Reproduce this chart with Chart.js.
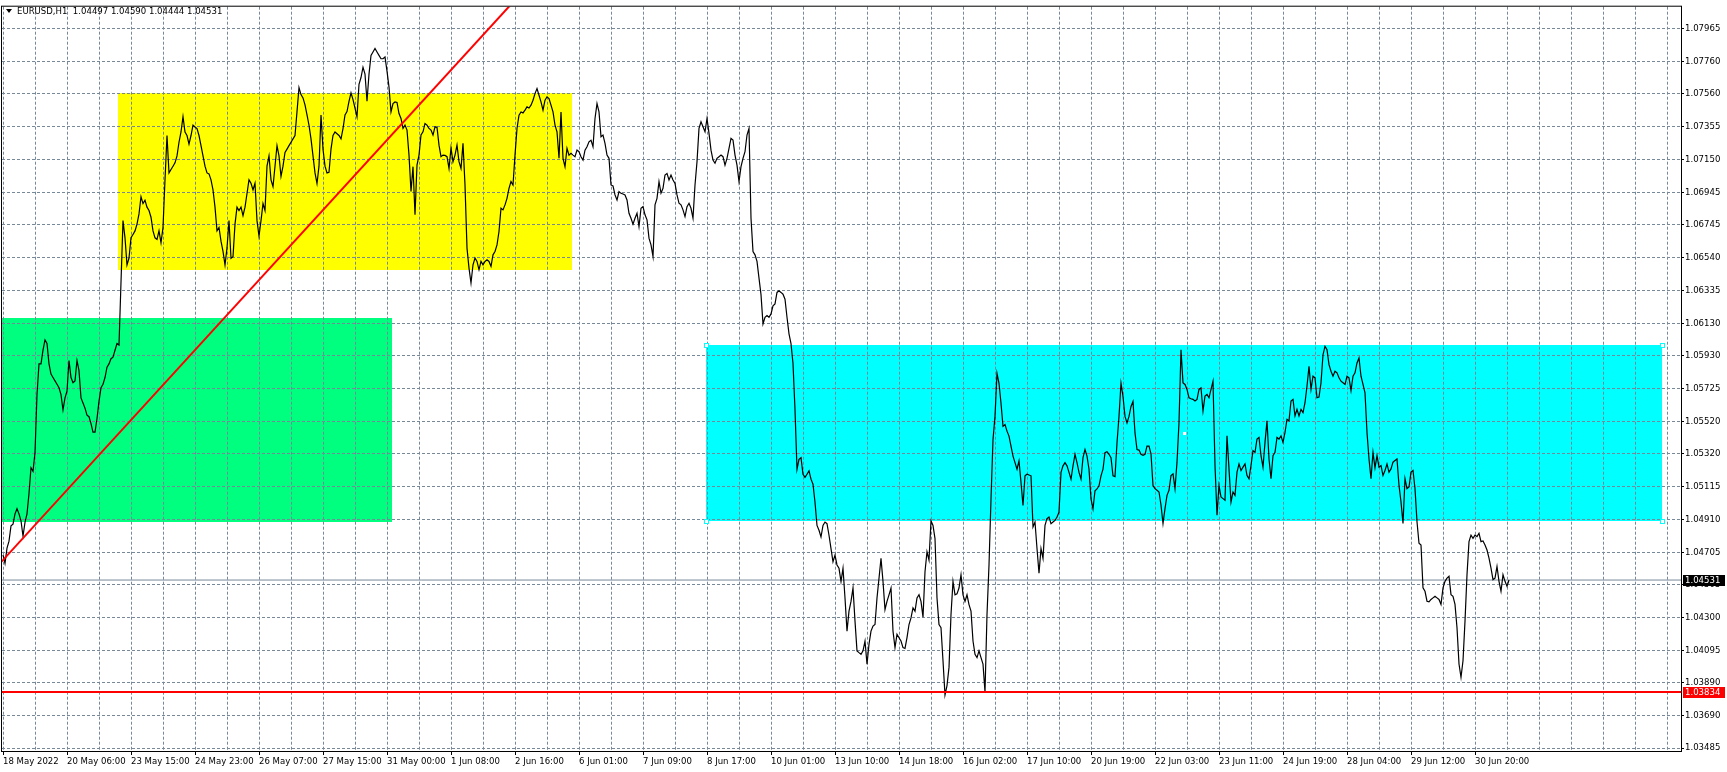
<!DOCTYPE html>
<html><head><meta charset="utf-8">
<script src="https://cdn.jsdelivr.net/npm/chart.js@4.4.1/dist/chart.umd.min.js"></script>
<style>html,body{margin:0;padding:0;background:#fff;overflow:hidden}canvas{display:block}</style>
</head><body>
<canvas id="c" width="1727" height="772"></canvas>
<script>
// ---------- data ----------
const symbolTitle = 'EURUSD,H1  1.04497 1.04590 1.04444 1.04531';
const timeLabels = ['18 May 2022','20 May 06:00','23 May 15:00','24 May 23:00','26 May 07:00','27 May 15:00','31 May 00:00','1 Jun 08:00','2 Jun 16:00','6 Jun 01:00','7 Jun 09:00','8 Jun 17:00','10 Jun 01:00','13 Jun 10:00','14 Jun 18:00','16 Jun 02:00','17 Jun 10:00','20 Jun 19:00','22 Jun 03:00','23 Jun 11:00','24 Jun 19:00','28 Jun 04:00','29 Jun 12:00','30 Jun 20:00'];
const barsPerLabel = 32;
const priceTicks = [1.07965,1.07760,1.07560,1.07355,1.07150,1.06945,1.06745,1.06540,1.06335,1.06130,1.05930,1.05725,1.05520,1.05320,1.05115,1.04910,1.04705,1.04505,1.04300,1.04095,1.03890,1.03690,1.03485];
// hourly closes, one per bar (bar index = array index)
const closePrice = [
1.04688,1.04635,1.04730,1.04773,1.04868,1.04879,1.04943,1.04975,1.04943,1.04900,
1.04805,1.04890,1.04943,1.05070,1.05230,1.05208,1.05325,1.05686,1.05877,1.05877,
1.05962,1.06026,1.06004,1.05877,1.05813,1.05792,1.05771,1.05750,1.05728,1.05686,
1.05590,1.05665,1.05707,1.05898,1.05792,1.05760,1.05771,1.05898,1.05835,1.05665,
1.05633,1.05601,1.05558,1.05548,1.05505,1.05452,1.05452,1.05537,1.05643,1.05728,
1.05750,1.05792,1.05856,1.05877,1.05909,1.05919,1.05962,1.06004,1.05994,1.06386,
1.06769,1.06662,1.06493,1.06535,1.06662,1.06683,1.06705,1.06747,1.06811,1.06918,
1.06875,1.06896,1.06853,1.06832,1.06790,1.06705,1.06662,1.06652,1.06705,1.06631,
1.06726,1.07023,1.07299,1.07066,1.07087,1.07108,1.07129,1.07172,1.07257,1.07321,
1.07416,1.07321,1.07299,1.07246,1.07299,1.07363,1.07352,1.07342,1.07299,1.07236,
1.07172,1.07108,1.07066,1.07060,1.07023,1.06960,1.06853,1.06705,1.06726,1.06641,
1.06578,1.06493,1.06599,1.06769,1.06535,1.06545,1.06747,1.06853,1.06832,1.06853,
1.06800,1.06853,1.06938,1.07023,1.07002,1.06960,1.07002,1.06769,1.06673,1.06769,
1.06875,1.06832,1.07108,1.07172,1.07023,1.06981,1.07108,1.07236,1.07172,1.07045,
1.07108,1.07193,1.07214,1.07236,1.07257,1.07278,1.07299,1.07448,1.07597,1.07554,
1.07533,1.07490,1.07427,1.07363,1.07278,1.07172,1.07066,1.07000,1.07108,1.07427,
1.07214,1.07108,1.07066,1.07070,1.07214,1.07299,1.07321,1.07310,1.07299,1.07278,
1.07342,1.07427,1.07448,1.07512,1.07565,1.07522,1.07469,1.07415,1.07618,1.07660,
1.07724,1.07681,1.07512,1.07681,1.07798,1.07819,1.07841,1.07819,1.07798,1.07777,
1.07777,1.07788,1.07700,1.07600,1.07446,1.07498,1.07508,1.07505,1.07436,1.07405,
1.07343,1.07364,1.07333,1.07177,1.06950,1.07105,1.06805,1.07115,1.07177,1.07302,
1.07322,1.07374,1.07364,1.07343,1.07333,1.07302,1.07353,1.07350,1.07239,1.07167,
1.07177,1.07175,1.07167,1.07094,1.07220,1.07136,1.07177,1.07239,1.07136,1.07094,
1.07250,1.06991,1.06598,1.06473,1.06380,1.06494,1.06536,1.06515,1.06463,1.06515,
1.06494,1.06515,1.06525,1.06515,1.06484,1.06556,1.06577,1.06618,1.06701,1.06846,
1.06836,1.06867,1.06908,1.06970,1.07012,1.06991,1.07177,1.07343,1.07426,1.07446,
1.07440,1.07457,1.07477,1.07470,1.07488,1.07519,1.07560,1.07591,1.07550,1.07508,
1.07457,1.07519,1.07540,1.07529,1.07488,1.07446,1.07364,1.07322,1.07157,1.07446,
1.07157,1.07105,1.07219,1.07177,1.07188,1.07177,1.07167,1.07208,1.07198,1.07167,
1.07146,1.07208,1.07229,1.07260,1.07270,1.07229,1.07405,1.07498,1.07446,1.07291,
1.07302,1.07250,1.07177,1.07157,1.06991,1.06985,1.06929,1.06898,1.06950,1.06939,
1.06935,1.06929,1.06898,1.06815,1.06784,1.06747,1.06784,1.06815,1.06732,1.06846,
1.06856,1.06805,1.06774,1.06660,1.06618,1.06546,1.06867,1.06908,1.07012,1.06940,
1.06970,1.07053,1.07063,1.07022,1.07053,1.07022,1.07001,1.06929,1.06877,1.06867,
1.06836,1.06794,1.06856,1.06877,1.06846,1.06784,1.06991,1.07136,1.07343,1.07384,
1.07353,1.07322,1.07405,1.07312,1.07208,1.07146,1.07126,1.07157,1.07167,1.07177,
1.07167,1.07115,1.07157,1.07219,1.07281,1.07270,1.07177,1.07115,1.07012,1.07105,
1.07157,1.07198,1.07302,1.07343,1.06784,1.06577,1.06556,1.06515,1.06411,1.06308,
1.06126,1.06167,1.06178,1.06167,1.06188,1.06239,1.06250,1.06322,1.06332,1.06322,
1.06311,1.06280,1.06167,1.06064,1.06003,1.05879,1.05591,1.05221,1.05283,1.05293,
1.05190,1.05170,1.05190,1.05211,1.05159,1.05128,1.05015,1.04871,1.04841,1.04799,
1.04871,1.04892,1.04882,1.04810,1.04727,1.04645,1.04686,1.04625,1.04604,1.04522,
1.04604,1.04419,1.04213,1.04337,1.04398,1.04481,1.04275,1.04090,1.04079,1.04069,
1.04090,1.04151,1.04007,1.04131,1.04213,1.04244,1.04254,1.04419,1.04542,1.04666,
1.04522,1.04347,1.04398,1.04439,1.04481,1.04213,1.04110,1.04193,1.04172,1.04151,
1.04110,1.04105,1.04172,1.04254,1.04295,1.04357,1.04337,1.04419,1.04439,1.04398,
1.04300,1.04583,1.04707,1.04655,1.04900,1.04871,1.04789,1.04419,1.04254,1.04234,
1.04028,1.03815,1.03874,1.03987,1.04316,1.04522,1.04439,1.04445,1.04481,1.04563,
1.04439,1.04398,1.04439,1.04378,1.04337,1.04151,1.04069,1.04048,1.04090,1.04048,
1.04007,1.03834,1.04316,1.04625,1.05036,1.05406,1.05550,1.05818,1.05756,1.05632,
1.05488,1.05499,1.05458,1.05427,1.05365,1.05303,1.05262,1.05221,1.05273,1.05139,
1.04995,1.05180,1.05190,1.05185,1.05180,1.04861,1.04892,1.04727,1.04573,1.04727,
1.04666,1.04871,1.04913,1.04923,1.04882,1.04892,1.04902,1.04923,1.04954,1.05201,
1.05242,1.05262,1.05242,1.05201,1.05159,1.05242,1.05314,1.05262,1.05201,1.05159,
1.05293,1.05344,1.05303,1.05221,1.05036,1.04974,1.05087,1.05098,1.05118,1.05180,
1.05221,1.05324,1.05330,1.05314,1.05293,1.05180,1.05175,1.05386,1.05550,1.05756,
1.05674,1.05550,1.05509,1.05550,1.05612,1.05643,1.05447,1.05344,1.05340,1.05314,
1.05308,1.05314,1.05365,1.05365,1.05316,1.05120,1.05100,1.05090,1.05079,1.04997,
1.04883,1.04976,1.05058,1.05090,1.05182,1.05192,1.05100,1.05265,1.05512,1.05965,
1.05759,1.05749,1.05718,1.05666,1.05660,1.05656,1.05646,1.05656,1.05718,1.05728,
1.05584,1.05677,1.05687,1.05666,1.05718,1.05769,1.05244,1.04935,1.05120,1.05048,
1.05038,1.05028,1.05429,1.05223,1.05017,1.05079,1.05058,1.05203,1.05254,1.05213,
1.05234,1.05254,1.05182,1.05162,1.05244,1.05337,1.05326,1.05409,1.05419,1.05306,
1.05234,1.05388,1.05522,1.05285,1.05162,1.05306,1.05326,1.05419,1.05409,1.05429,
1.05388,1.05450,1.05532,1.05522,1.05646,1.05656,1.05553,1.05594,1.05553,1.05594,
1.05574,1.05635,1.05739,1.05862,1.05718,1.05800,1.05790,1.05666,1.05670,1.05759,
1.05934,1.05986,1.05965,1.05872,1.05831,1.05800,1.05831,1.05821,1.05790,1.05769,
1.05759,1.05749,1.05800,1.05790,1.05710,1.05800,1.05821,1.05883,1.05914,1.05800,
1.05749,1.05697,1.05450,1.05285,1.05162,1.05326,1.05230,1.05306,1.05234,1.05244,
1.05182,1.05213,1.05254,1.05203,1.05223,1.05265,1.05275,1.05285,1.05120,1.05017,
1.04883,1.05162,1.05100,1.05110,1.05203,1.05213,1.05100,1.04894,1.04760,1.04749,
1.04482,1.04461,1.04399,1.04395,1.04410,1.04420,1.04430,1.04420,1.04410,1.04379,
1.04482,1.04523,1.04543,1.04554,1.04440,1.04430,1.04379,1.04234,1.04008,1.03925,
1.04028,1.04275,1.04564,1.04770,1.04811,1.04791,1.04811,1.04801,1.04822,1.04770,
1.04774,1.04749,1.04718,1.04667,1.04605,1.04533,1.04543,1.04615,1.04523,1.04461,
1.04564,1.04523,1.04492,1.04531
];
// rectangles (bar index from / to, price low / high)
const zoneFrom = [-2, 57.7, 351.5];
const zoneTo   = [194.5, 284.7, 829.5];
const zoneLow  = [1.04891, 1.06460, 1.04897];
const zoneHigh = [1.06160, 1.07565, 1.05993];
// trend line anchors: bar index and price
const trendBars   = [-1, 300];
const trendPrices = [1.04642, 1.08742];
const supportLevel = 1.03834;
const bidPrice = 1.04531;
const xRange = [-0.5, 839];
const yRange = [1.034664, 1.081011];

// ---------- styles ----------
const zoneColors = ['#00ff7f', '#ffff00', '#00ffff'];
const gridColor = '#778899';
const FONT = '"DejaVu Sans Condensed", "Liberation Sans", Arial, sans-serif';
Chart.defaults.font.family = FONT;
Chart.defaults.font.size = 9.5;
Chart.defaults.color = '#000';

const zonePlugin = {
  id: 'zones',
  beforeDraw(chart) {
    const {ctx, chartArea: a, scales: {x, y}} = chart;
    ctx.save();
    ctx.fillStyle = '#fff';
    ctx.fillRect(0, 0, chart.width, chart.height);
    ctx.beginPath(); ctx.rect(a.left, a.top, a.right - a.left, a.bottom - a.top); ctx.clip();
    zoneFrom.forEach((f, i) => {
      const x0 = Math.round(x.getPixelForValue(f)), x1 = Math.round(x.getPixelForValue(zoneTo[i]));
      const y0 = Math.round(y.getPixelForValue(zoneHigh[i])), y1 = Math.round(y.getPixelForValue(zoneLow[i]));
      ctx.fillStyle = zoneColors[i];
      ctx.fillRect(x0, y0, x1 - x0, y1 - y0);
    });
    ctx.restore();
  }
};

const overlayPlugin = {
  id: 'overlay',
  afterDraw(chart) {
    const {ctx, chartArea: a, scales: {x, y}} = chart;
    ctx.save();
    // frame
    ctx.strokeStyle = '#000'; ctx.lineWidth = 1;
    ctx.strokeRect(a.left - 0.5, a.top - 0.5, a.right - a.left + 1, a.bottom - a.top + 1);
    // selection handles on the cyan rectangle
    const cx0 = Math.round(x.getPixelForValue(zoneFrom[2])), cx1 = Math.round(x.getPixelForValue(zoneTo[2]));
    const cy0 = Math.round(y.getPixelForValue(zoneHigh[2])), cy1 = Math.round(y.getPixelForValue(zoneLow[2]));
    [[cx0, cy0], [cx1, cy0], [cx0, cy1], [cx1, cy1]].forEach(([hx, hy]) => {
      ctx.fillStyle = '#fff'; ctx.fillRect(hx - 2, hy - 2, 5, 5);
      ctx.strokeStyle = '#00ffff'; ctx.strokeRect(hx - 1.5, hy - 1.5, 4, 4);
    });
    ctx.fillStyle = '#fff';
    ctx.fillRect(Math.round((cx0 + cx1) / 2) - 1, Math.round((cy0 + cy1) / 2) - 1, 3, 3);
    // price boxes on the axis
    ctx.font = '9.5px ' + FONT;
    ctx.textBaseline = 'middle'; ctx.textAlign = 'left';
    [[bidPrice, '#000000'], [supportLevel, '#ff0000']].forEach(([p, c]) => {
      const py = Math.round(y.getPixelForValue(p));
      ctx.fillStyle = c;
      ctx.fillRect(a.right + 2, py - 5, 42, 11);
      ctx.fillStyle = '#fff';
      ctx.fillText(p.toFixed(5), a.right + 4, py + 0.5);
    });
    // title
    ctx.fillStyle = '#000';
    ctx.beginPath(); ctx.moveTo(6, 9); ctx.lineTo(12, 9); ctx.lineTo(9, 13); ctx.closePath(); ctx.fill();
    ctx.fillText(symbolTitle, 17, 11.5);
    ctx.restore();
  }
};

new Chart(document.getElementById('c'), {
  type: 'line',
  data: {
    datasets: [
      { label: 'Trend', data: trendBars.map((b, i) => ({x: b, y: trendPrices[i]})),
        borderColor: '#ff0000', borderWidth: 2, pointRadius: 0 },
      { label: 'Support', data: xRange.map(b => ({x: b, y: supportLevel})),
        borderColor: '#ff0000', borderWidth: 2, pointRadius: 0 },
      { label: 'EURUSD', data: closePrice.map((v, i) => ({x: i, y: v})),
        borderColor: '#000000', borderWidth: 1.2, pointRadius: 0, tension: 0 },
      { label: 'Bid', data: xRange.map(b => ({x: b, y: bidPrice})),
        borderColor: '#778899', borderWidth: 1, pointRadius: 0 }
    ]
  },
  options: {
    responsive: false, animation: false, events: [],
    layout: { padding: { left: 2, top: 2, right: 0, bottom: 0 } },
    plugins: { legend: { display: false }, tooltip: { enabled: false } },
    scales: {
      x: {
        type: 'linear', min: xRange[0], max: xRange[1],
        afterFit(s) { s.height = 21; },
        afterBuildTicks(s) {
          const t = [];
          for (let b = 0; b <= s.max; b += barsPerLabel / 2) t.push({value: b});
          s.ticks = t;
        },
        ticks: {
          autoSkip: false, maxRotation: 0, align: 'start', padding: 1,
          callback: v => (v % barsPerLabel === 0 ? (timeLabels[v / barsPerLabel] || '') : '')
        },
        grid: {
          color: gridColor, lineWidth: 1, tickLength: 4,
          tickColor: c => (c.tick && c.tick.value % barsPerLabel === 0 && c.tick.value / barsPerLabel < timeLabels.length) ? '#000' : 'rgba(0,0,0,0)'
        },
        border: { display: true, color: '#000', dash: [3, 2] }
      },
      y: {
        type: 'linear', position: 'right', min: yRange[0], max: yRange[1],
        afterFit(s) { s.width = 46; },
        afterBuildTicks(s) { s.ticks = priceTicks.map(v => ({value: v})); },
        ticks: { autoSkip: false, padding: 1, callback: v => Number(v).toFixed(5) },
        grid: { color: gridColor, lineWidth: 1, tickLength: 3, tickColor: '#000' },
        border: { display: true, color: '#000', dash: [3, 2] }
      }
    }
  },
  plugins: [zonePlugin, overlayPlugin]
});
</script>
</body></html>
